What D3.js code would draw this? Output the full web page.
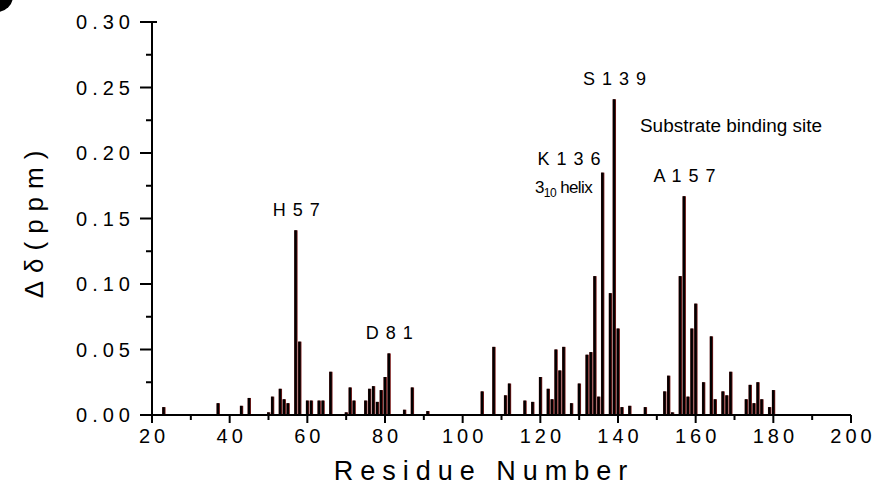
<!DOCTYPE html>
<html>
<head>
<meta charset="utf-8">
<script src="https://cdn.jsdelivr.net/npm/d3@7"></script>
<style>
  body { margin: 0; background: #fff; }
  svg { display: block; font-family: "Liberation Sans", Arial, sans-serif; }
</style>
</head>
<body>
<svg width="877" height="492"></svg>
<script>
// residue numbers and chemical shift changes (ppm)
const residues = [23, 37, 43, 45, 50, 51, 53, 54, 55, 57, 58, 60, 61, 63, 64, 66,
  70, 71, 72, 75, 76, 77, 78, 79, 80, 81, 85, 87, 91,
  105, 108, 111, 112, 116, 118, 120, 122, 123, 124, 125, 126, 128, 130, 132, 133,
  134, 135, 136, 138, 139, 140, 141, 143, 147,
  152, 153, 154, 156, 157, 158, 159, 160, 162, 164, 165, 167, 168, 169,
  173, 174, 175, 176, 177, 179, 180];
const shifts = [0.006, 0.009, 0.007, 0.013, 0.002, 0.014, 0.020, 0.012, 0.009, 0.141, 0.056, 0.011, 0.011, 0.011, 0.011, 0.033,
  0.002, 0.021, 0.011, 0.011, 0.020, 0.022, 0.010, 0.019, 0.029, 0.047, 0.004, 0.021, 0.003,
  0.018, 0.052, 0.015, 0.024, 0.011, 0.010, 0.029, 0.020, 0.012, 0.050, 0.034, 0.052, 0.009, 0.024, 0.046, 0.048,
  0.106, 0.014, 0.185, 0.093, 0.241, 0.066, 0.006, 0.007, 0.006,
  0.018, 0.030, 0.002, 0.106, 0.167, 0.014, 0.066, 0.085, 0.025, 0.060, 0.012, 0.018, 0.015, 0.033,
  0.012, 0.023, 0.009, 0.025, 0.012, 0.006, 0.019];

const xTicks = [20, 40, 60, 80, 100, 120, 140, 160, 180, 200];
const yTicks = [0.00, 0.05, 0.10, 0.15, 0.20, 0.25, 0.30];

// residue annotations; anchor "end" sits left of its bar
const labels = [
  {res: 57, val: 0.141, text: "H 5 7", anchor: "middle"},
  {res: 81, val: 0.047, text: "D 8 1", anchor: "middle"},
  {res: 136, val: 0.185, text: "K 1 3 6", anchor: "end"},
  {res: 139, val: 0.241, text: "S 1 3 9", anchor: "middle"},
  {res: 157, val: 0.167, text: "A 1 5 7", anchor: "middle"}
];

const svg = d3.select("svg");
const margin = {left: 152, right: 26, top: 22, bottom: 77};
const W = 877, H = 492;

const x = d3.scaleLinear().domain([20, 200]).range([margin.left, W - margin.right]);
const y = d3.scaleLinear().domain([0, 0.30]).range([H - margin.bottom, margin.top]);

// corner panel marker (cut off)
svg.append("circle").attr("cx", -3).attr("cy", -4).attr("r", 16).attr("fill", "#000");

// bars: dark red edge behind black stick
const bars = svg.append("g");
residues.forEach((r, i) => {
  const px = x(r);
  bars.append("rect")
    .attr("x", px - 1.5).attr("width", 3.4)
    .attr("y", y(shifts[i])).attr("height", y(0) - y(shifts[i]))
    .attr("fill", "#7a1c1c");
  bars.append("rect")
    .attr("x", px - 1.3).attr("width", 2.4)
    .attr("y", y(shifts[i])).attr("height", y(0) - y(shifts[i]))
    .attr("fill", "#000");
});

// x axis
const xAxis = svg.append("g").attr("transform", `translate(0,${y(0)})`);
xAxis.append("line").attr("x1", 140).attr("x2", x(200)).attr("stroke", "#000").attr("stroke-width", 2);
xAxis.selectAll(".maj").data(xTicks).join("line")
  .attr("x1", d => x(d)).attr("x2", d => x(d)).attr("y1", 0).attr("y2", 8)
  .attr("stroke", "#000").attr("stroke-width", 2);
xAxis.selectAll(".min").data(d3.range(30, 200, 20)).join("line")
  .attr("x1", d => x(d)).attr("x2", d => x(d)).attr("y1", 0).attr("y2", 5)
  .attr("stroke", "#000").attr("stroke-width", 2);
xAxis.selectAll("text").data(xTicks).join("text")
  .attr("x", d => x(d) + 2).attr("y", 28)
  .attr("text-anchor", "middle")
  .attr("font-size", 20).attr("letter-spacing", 4)
  .text(d => d);

// y axis
const yAxis = svg.append("g").attr("transform", `translate(${x(20)},0)`);
yAxis.append("line").attr("y1", y(0.30)).attr("y2", y(0) + 8).attr("stroke", "#000").attr("stroke-width", 2);
yAxis.selectAll(".maj").data(yTicks).join("line")
  .attr("x1", -12).attr("x2", d => d === 0.30 ? 5 : 0)
  .attr("y1", d => y(d)).attr("y2", d => y(d))
  .attr("stroke", "#000").attr("stroke-width", 2);
yAxis.selectAll(".min").data(d3.range(0.025, 0.30, 0.05)).join("line")
  .attr("x1", -6).attr("x2", 0)
  .attr("y1", d => y(d)).attr("y2", d => y(d))
  .attr("stroke", "#000").attr("stroke-width", 2);
yAxis.selectAll("text").data(yTicks).join("text")
  .attr("x", -17).attr("y", d => y(d) + 7)
  .attr("text-anchor", "end")
  .attr("font-size", 20).attr("letter-spacing", 5)
  .text(d => d.toFixed(2));

// axis titles
svg.append("text")
  .attr("x", 484).attr("y", 480)
  .attr("text-anchor", "middle")
  .attr("font-size", 27).attr("letter-spacing", 7)
  .text("Residue Number");
svg.append("text")
  .attr("transform", `translate(43,${(y(0) + y(0.30)) / 2 + 2}) rotate(-90)`)
  .attr("text-anchor", "middle")
  .attr("font-size", 26).attr("letter-spacing", 8)
  .text("Δδ(ppm)");

svg.selectAll(".lab").data(labels).join("text")
  .attr("x", d => d.anchor === "end" ? x(d.res) - 1 : x(d.res) + 1)
  .attr("y", d => d.anchor === "end" ? y(d.val) - 8 : y(d.val) - 14)
  .attr("text-anchor", d => d.anchor)
  .attr("font-size", 18).attr("letter-spacing", 1)
  .text(d => d.text);

const helix = svg.append("text")
  .attr("x", 535).attr("y", 193)
  .attr("font-size", 17).attr("letter-spacing", -0.6);
helix.append("tspan").text("3");
helix.append("tspan").attr("font-size", 12).attr("dy", 4).text("10");
helix.append("tspan").attr("dy", -4).text(" helix");

svg.append("text")
  .attr("x", 640).attr("y", 132)
  .attr("font-size", 18)
  .attr("textLength", 182).attr("lengthAdjust", "spacingAndGlyphs")
  .text("Substrate binding site");
</script>
</body>
</html>
